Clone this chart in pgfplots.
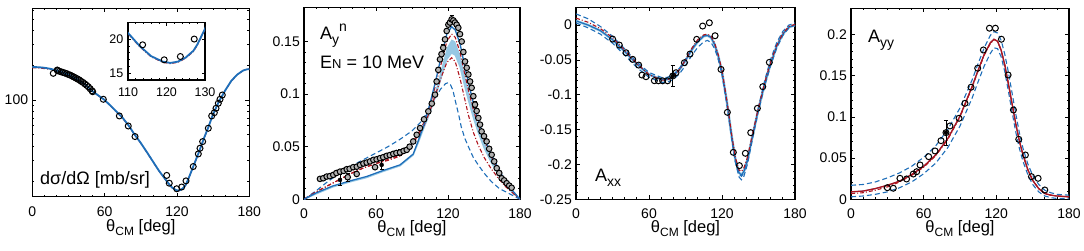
\documentclass[border=0pt]{standalone}
\usepackage{fontspec}
\setmainfont{Liberation Sans}
\usepackage{pgfplots}
\pgfplotsset{compat=1.18}
\definecolor{cblue}{RGB}{30,110,185}
\definecolor{lblue}{RGB}{150,200,228}
\definecolor{cred}{RGB}{175,20,30}
\newcommand{\tfont}{\fontsize{14}{14}\selectfont}
\newcommand{\lfont}{\fontsize{16.5}{16.5}\selectfont}
\newcommand{\pfont}{\fontsize{18}{18}\selectfont}
\newcommand{\xlab}{θ\raisebox{-3.5pt}{\fontsize{12}{12}\selectfont CM} [deg]}
\pgfplotsset{
  panel/.style={scale only axis, anchor=south west,
    axis line style={line width=1.1pt},
    tick align=inside, major tick length=4pt, minor tick length=2pt,
    every tick/.style={black, line width=0.7pt},
    xmin=0, xmax=180, xtick={0,60,120,180}, xticklabels={0,60,120,180}, minor x tick num=5,
    xticklabel style={font=\tfont, anchor=base, yshift=-19pt, inner sep=0pt},
    yticklabel style={font=\tfont, anchor=east, xshift=-4pt, inner sep=0pt},
    every axis x label/.style={at={(rel axis cs:0.5,0)}, anchor=base, yshift=-33.5pt, font=\lfont, inner sep=0pt},
    xlabel={\xlab},
    clip=true},
  bsol/.style={cblue, line width=1.5pt, no marks},
  lsol/.style={lblue, line width=1.5pt, no marks},
  bdash/.style={cblue, line width=1.1pt, dash pattern=on 5pt off 3pt, no marks},
  rdd/.style={cred, line width=1.1pt, dash pattern=on 4pt off 2pt on 1pt off 2pt, no marks},
  rsol/.style={cred, line width=1.3pt, no marks},
  dat/.style={only marks, mark=o, mark size=3pt, black, mark options={line width=1pt}},
  errb/.style={only marks, mark=none, black, error bars/.cd, y dir=both, y explicit,
     error bar style={line width=0.6pt}, error mark options={rotate=90, mark size=2pt, line width=0.6pt}},
}

% ---------------- Panel 1 data ----------------
\pgfplotstableread{
t v
0 193
5 192
10 190
15 186
20 180
25 173
30 166
35 156
40 145
45 133
50 119
55 109
60 100
65 89
70 79
75 70
80 60
85 50
90 42.5
95 35.5
100 29.5
105 24.5
110 20.9
113 19.0
116 17.5
119 16.7
121 16.5
123 16.7
125 17.3
127 18.3
128 19.2
130 21.5
133 25.8
136 31
138 35
140 40
143 48.5
146 58
149 71
152 84
155 98
158 111
160 121
165 146
170 166
175 180
178 184
180 185
}\curveA
\pgfplotstableread{
t v
0 190
5 189
10 187
15 184
20 179
25 172
30 165
35 155
40 144.5
45 132.5
50 119
55 108.5
60 99.5
65 88.5
70 78.5
75 69.5
80 59.5
85 49.8
90 42.3
95 35.3
100 29.4
105 24.4
110 20.8
113 18.9
116 17.4
119 16.6
121 16.4
123 16.6
125 17.2
127 18.2
128 19.1
130 21.4
133 25.7
136 30.8
138 34.8
140 39.8
143 48.3
146 57.8
149 70.7
152 83.7
155 97.6
158 110.5
160 120.5
165 145.5
170 165.5
175 179.5
178 183.5
180 184.5
}\curveAr
\pgfplotstableread{
t v
17.4 170
20.7 181.5
21 179
22.5 177
24 175
25.5 173
27 171
28.5 169
30 166
31.5 164
33 161
34.5 158
36 155
37.5 152
39 149
40.5 145
42 142
43.5 138
45 134
46.5 130
48 125
49.5 120
50.1 117.9
58.9 101.4
72.2 72.8
79.6 59.6
85.2 48.3
111.5 22.3
113.6 19.1
119.8 17.1
123.9 17.7
127.5 20.0
133.5 26.6
137.7 34.2
139.1 38.3
141.3 43.7
146 57.0
148.8 72.8
151 77.7
152.4 84.8
154.3 93.7
155.7 101.4
157.6 110.4
}\dataA

% ---------------- Panel 2 data ----------------
\pgfplotstableread{
t v
0 0
10 0.008
20 0.017
30 0.025
40 0.032
50 0.038
60 0.044
70 0.050
80 0.057
90 0.065
97 0.073
103 0.083
109 0.096
114 0.105
118 0.110
120 0.1107
122 0.109
124 0.104
126 0.094
129 0.080
131 0.069
134 0.058
137 0.050
141 0.040
145 0.033
150 0.025
156 0.017
163 0.010
170 0.006
175 0.003
180 0
}\bD
\pgfplotstableread{
t v
0 0
10 0.007
20 0.013
30 0.019
40 0.025
50 0.030
60 0.034
70 0.037
80 0.041
88 0.049
95 0.060
100 0.070
105 0.084
110 0.101
115 0.118
119 0.130
123 0.1345
126 0.131
130 0.115
134 0.095
137 0.080
141 0.064
145 0.052
150 0.040
156 0.029
162 0.020
168 0.012
174 0.006
180 0
}\bRa
\pgfplotstableread{
t v
0 0
10 0.007
20 0.013
30 0.019
40 0.025
50 0.030
60 0.034
70 0.038
80 0.042
88 0.050
95 0.062
100 0.073
105 0.089
110 0.110
115 0.132
119 0.150
123 0.157
126 0.154
130 0.140
134 0.119
137 0.104
141 0.086
145 0.071
150 0.056
156 0.041
162 0.027
168 0.016
174 0.007
180 0
}\bRb
\pgfplotstableread{
t v
0 0
10 0.006
24 0.0127
40 0.018
52 0.0216
65 0.027
80 0.0327
91 0.0430
95 0.055
100 0.071
105 0.091
110 0.114
115 0.139
119 0.157
123 0.164
126 0.161
130 0.148
134 0.126
137 0.111
141 0.092
145 0.076
150 0.059
156 0.043
162 0.029
168 0.017
174 0.008
180 0
}\bB
\pgfplotstableread{
t v
100 0.070
105 0.086
110 0.105
115 0.127
119 0.144
123 0.152
126 0.150
130 0.138
134 0.118
137 0.104
141 0.086
145 0.071
150 0.055
156 0.040
162 0.027
168 0.016
174 0.007
180 0
174 0.006
168 0.013
162 0.023
156 0.035
150 0.049
145 0.064
141 0.078
137 0.094
134 0.107
130 0.126
126 0.137
123 0.139
119 0.133
115 0.118
110 0.099
105 0.082
100 0.068
}\bBand
\pgfplotstableread{
t v
0 0
10 0.005
24 0.0117
40 0.017
52 0.0205
65 0.026
80 0.0317
91 0.0420
95 0.053
100 0.068
105 0.082
110 0.099
115 0.118
119 0.133
123 0.139
126 0.137
130 0.126
134 0.107
137 0.094
141 0.078
145 0.064
150 0.049
156 0.035
162 0.023
168 0.013
174 0.006
180 0
}\bL
\pgfplotstableread{
t v
13.3 0.0194
16 0.020
18.9 0.0216
21.5 0.022
24.4 0.0232
27 0.025
30 0.0263
33 0.027
35.6 0.0286
36.4 0.021
38 0.029
41 0.0305
43.9 0.0241
44 0.031
46.7 0.0327
49.5 0.034
52.2 0.0349
55 0.036
57.8 0.0375
59.2 0.0305
60.5 0.038
63.3 0.0391
66 0.040
68.9 0.0413
71.5 0.042
74.4 0.0432
77 0.044
80 0.0445
83 0.046
85.6 0.047
88 0.050
91 0.055
93.9 0.0613
96.7 0.0677
100 0.076
103.6 0.0836
106.5 0.091
109.2 0.0995
110.5 0.112
111.9 0.123
113.3 0.133
114.6 0.138
116 0.144
117.5 0.152
118.9 0.160
120.3 0.166
121.6 0.168
123 0.171
124.5 0.170
125.8 0.168
127.2 0.166
128.6 0.163
130 0.157
131.4 0.150
132.8 0.140
134.2 0.131
135.6 0.125
137 0.1186
138.4 0.112
139.7 0.106
141.1 0.098
142.5 0.090
143.9 0.084
145.3 0.0773
146.7 0.071
148 0.0645
150 0.060
152.2 0.055
154.3 0.048
156.4 0.0423
158.5 0.036
160.6 0.0296
162.7 0.025
164.7 0.020
166.8 0.018
168.9 0.0153
171 0.013
173 0.011
}\dataB
\pgfplotstableread{
t v e
30 0.0184 0.005
36.4 0.021 0.004
64.7 0.0327 0.004
80 0.0445 0.003
123 0.171 0.004
116 0.144 0.003
142.5 0.090 0.003
}\errB

% ---------------- Panel 3 data ----------------
\pgfplotstableread{
t b r u l
0 0.006 0.010 0.016 0.003
10 0.000 0.004 0.009 -0.004
20 -0.008 -0.005 -0.002 -0.013
30 -0.021 -0.018 -0.016 -0.026
40 -0.038 -0.036 -0.034 -0.043
50 -0.056 -0.055 -0.053 -0.061
60 -0.071 -0.071 -0.068 -0.075
70 -0.078 -0.079 -0.075 -0.082
75 -0.078 -0.079 -0.075 -0.082
80 -0.073 -0.074 -0.071 -0.078
85 -0.064 -0.064 -0.062 -0.070
90 -0.051 -0.050 -0.049 -0.058
95 -0.036 -0.034 -0.034 -0.044
100 -0.024 -0.021 -0.022 -0.032
105 -0.016 -0.014 -0.015 -0.024
108 -0.015 -0.013 -0.014 -0.022
111 -0.018 -0.016 -0.017 -0.025
114 -0.028 -0.026 -0.028 -0.034
117 -0.045 -0.043 -0.046 -0.050
120 -0.067 -0.065 -0.070 -0.071
124 -0.110 -0.108 -0.114 -0.112
128 -0.160 -0.158 -0.164 -0.162
131 -0.193 -0.190 -0.196 -0.197
134 -0.212 -0.208 -0.214 -0.218
136 -0.215 -0.210 -0.217 -0.222
138 -0.210 -0.205 -0.212 -0.217
141 -0.193 -0.189 -0.194 -0.199
145 -0.160 -0.157 -0.160 -0.164
150 -0.120 -0.118 -0.118 -0.123
155 -0.085 -0.083 -0.080 -0.088
160 -0.055 -0.053 -0.049 -0.058
165 -0.030 -0.029 -0.025 -0.033
170 -0.013 -0.012 -0.009 -0.015
175 -0.003 -0.002 0.000 -0.004
180 0.000 0.001 0.003 0.000
}\curvC
\pgfplotstableread{
t v
30.1 -0.0201
35.6 -0.0287
41.1 -0.0397
46.6 -0.0492
51.5 -0.0574
54.2 -0.0717
57.5 -0.0741
64.4 -0.0798
67.7 -0.0800
71.2 -0.0800
75.3 -0.0800
79.5 -0.0731
82.2 -0.0684
89.1 -0.0540
93.7 -0.0416
99.2 -0.0205
104.1 -0.0014
109.6 0.0033
114.3 -0.0153
119.2 -0.0636
124.4 -0.1252
129.3 -0.1826
134.3 -0.2017
139.2 -0.1840
143.6 -0.1544
149.1 -0.1195
153.5 -0.0884
158.9 -0.0535
}\dataC

% ---------------- Panel 4 data ----------------
\pgfplotstableread{
t m r u l
0 0.009 0.007 0.017 0.003
10 0.010 0.008 0.018 0.004
20 0.013 0.011 0.021 0.006
30 0.017 0.015 0.026 0.009
40 0.022 0.021 0.032 0.014
50 0.030 0.029 0.040 0.021
60 0.040 0.039 0.051 0.031
70 0.054 0.053 0.065 0.044
80 0.074 0.073 0.085 0.063
90 0.101 0.100 0.111 0.089
100 0.137 0.136 0.145 0.123
105 0.157 0.156 0.165 0.143
110 0.176 0.175 0.184 0.162
115 0.190 0.189 0.199 0.177
118 0.1944 0.194 0.2036 0.184
121 0.192 0.192 0.202 0.183
124 0.181 0.181 0.193 0.173
127 0.163 0.163 0.176 0.155
130 0.140 0.140 0.154 0.131
133 0.116 0.116 0.129 0.106
136 0.092 0.092 0.104 0.082
139 0.071 0.071 0.081 0.062
142 0.054 0.054 0.062 0.046
146 0.036 0.036 0.043 0.030
150 0.023 0.023 0.029 0.018
155 0.013 0.013 0.018 0.009
160 0.007 0.007 0.011 0.004
165 0.005 0.005 0.008 0.002
170 0.004 0.004 0.006 0.001
180 0.003 0.003 0.005 0.001
}\curvD
\pgfplotstableread{
t v
30 0.0141
34.9 0.0134
40.4 0.0255
45.9 0.0247
51.4 0.0307
54.2 0.0335
57 0.0417
64.1 0.0518
69.4 0.0587
74.3 0.0712
78.4 0.0809
81.7 0.0891
89.2 0.0984
94.1 0.1166
99.1 0.1361
104.6 0.1592
109.3 0.1814
114.3 0.2078
119.2 0.2078
124.2 0.1944
129.7 0.1510
134.1 0.1085
138.5 0.0729
144 0.0538
149 0.0275
154.5 0.0255
160 0.0113
}\dataD

\begin{document}
\begin{tikzpicture}

% ===== Panel 1 =====
\begin{axis}[panel, at={(32.3pt,54.3pt)}, width=217pt, height=188.4pt,
  ymode=log, ymin=14.6, ymax=620, ytick={100}, yticklabels={100},
  minor ytick={20,30,40,50,60,70,80,90,200,300,400,500,600},
  xticklabel style={yshift=-1pt}, every axis x label/.append style={yshift=-1.5pt}]
\addplot[bdash, lblue] table[x=t,y=v] {\curveA};
\addplot[rdd] table[x=t,y=v] {\curveAr};
\addplot[bsol, line width=1.8pt] table[x=t,y=v] {\curveA};
\addplot[dat] table[x=t,y=v] {\dataA};
\end{axis}
\begin{axis}[scale only axis, anchor=south west, at={(128pt,171pt)}, width=77pt, height=57.3pt,
  axis background/.style={fill=white},
  axis line style={line width=1.1pt},
  tick align=inside, major tick length=3pt, minor tick length=1.5pt,
  every tick/.style={black, line width=0.6pt},
  xmin=110, xmax=130, ymin=14, ymax=22.4,
  xtick={110,120,130}, xticklabels={110,120,130}, ytick={15,20}, yticklabels={15,20},
  minor x tick num=4, minor y tick num=4,
  xticklabel style={font=\fontsize{12.5}{12.5}\selectfont, anchor=base, yshift=-16.7pt, inner sep=0pt},
  yticklabel style={font=\fontsize{12.5}{12.5}\selectfont, anchor=east, xshift=-4.5pt, inner sep=0pt}]
\addplot[rdd] table[x=t,y=v] {\curveAr};
\addplot[bsol, line width=1.8pt] table[x=t,y=v] {\curveA};
\addplot[dat] coordinates {(113.8,19.16) (119.4,16.96) (123.6,17.44) (127.2,20.0)};
\end{axis}
\node[anchor=base west, font=\pfont, inner sep=0pt] at (40pt,66pt) {dσ/dΩ [mb/sr]};

% ===== Panel 2 =====
\begin{axis}[panel, at={(304pt,51.7pt)}, width=216pt, height=192pt,
  ymin=0, ymax=0.1825, ytick={0,0.05,0.1,0.15}, yticklabels={0,0.05,0.1,0.15},
  minor y tick num=4]
\addplot[fill=lblue, draw=none] table[x=t,y=v] {\bBand} -- cycle;
\addplot[lsol, line width=1.2pt] table[x=t,y=v] {\bL};
\addplot[bdash] table[x=t,y=v] {\bD};
\addplot[rdd] table[x=t,y=v] {\bRa};
\addplot[rdd] table[x=t,y=v] {\bRb};
\addplot[bsol, line width=1.3pt] table[x=t,y=v] {\bB};
\addplot[errb] table[x=t,y=v,y error=e] {\errB};
\addplot[only marks, mark=*, mark size=2.8pt, gray!60, mark options={draw=black, line width=1pt}] table[x=t,y=v] {\dataB};
\end{axis}
\node[anchor=base west, font=\pfont, inner sep=0pt] at (320pt,211pt) {A\raisebox{-4.5pt}{\fontsize{14}{14}\selectfont y}\raisebox{8pt}{\fontsize{14}{14}\selectfont n}};
\node[anchor=base west, font=\pfont, inner sep=0pt] at (320pt,182pt) {E{\fontsize{13}{13}\selectfont N} = 10 MeV};

% ===== Panel 3 =====
\begin{axis}[panel, at={(576pt,51.7pt)}, width=219pt, height=192pt,
  ymin=-0.25, ymax=0.0255, ytick={-0.25,-0.2,-0.15,-0.1,-0.05,0},
  yticklabels={-0.25,-0.2,-0.15,-0.1,-0.05,0}, minor y tick num=4]
\addplot[lsol, line width=2.5pt] table[x=t,y=b] {\curvC};
\addplot[bdash] table[x=t,y=u] {\curvC};
\addplot[bdash] table[x=t,y=l] {\curvC};
\addplot[bsol, line width=1.1pt] table[x=t,y=b] {\curvC};
\addplot[rdd] table[x=t,y=r] {\curvC};
\addplot[errb] coordinates {(79.5,-0.0731) +- (0,0.015)};
\addplot[dat] table[x=t,y=v] {\dataC};
\end{axis}
\node[anchor=base west, font=\pfont, inner sep=0pt] at (595pt,69pt) {A\raisebox{-4.5pt}{\fontsize{14}{14}\selectfont xx}};

% ===== Panel 4 =====
\begin{axis}[panel, at={(851pt,51.7pt)}, width=218pt, height=191pt,
  ymin=0, ymax=0.232, ytick={0,0.05,0.1,0.15,0.2}, yticklabels={0,0.05,0.1,0.15,0.2},
  minor y tick num=4]
\addplot[bdash] table[x=t,y=u] {\curvD};
\addplot[bdash] table[x=t,y=l] {\curvD};
\addplot[bsol, line width=1.0pt] table[x=t,y=m] {\curvD};
\addplot[rdd] table[x=t,y=r] {\curvD};
\addplot[rsol] table[x=t,y=m] {\curvD};
\addplot[errb] coordinates {(78.4,0.0809) +- (0,0.015)};
\addplot[dat] table[x=t,y=v] {\dataD};
\end{axis}
\node[anchor=base west, font=\pfont, inner sep=0pt] at (868pt,208pt) {A\raisebox{-4.5pt}{\fontsize{14}{14}\selectfont yy}};

\pgfresetboundingbox
\useasboundingbox (0pt,0pt) rectangle (1084pt,251pt);
\end{tikzpicture}
\end{document}
